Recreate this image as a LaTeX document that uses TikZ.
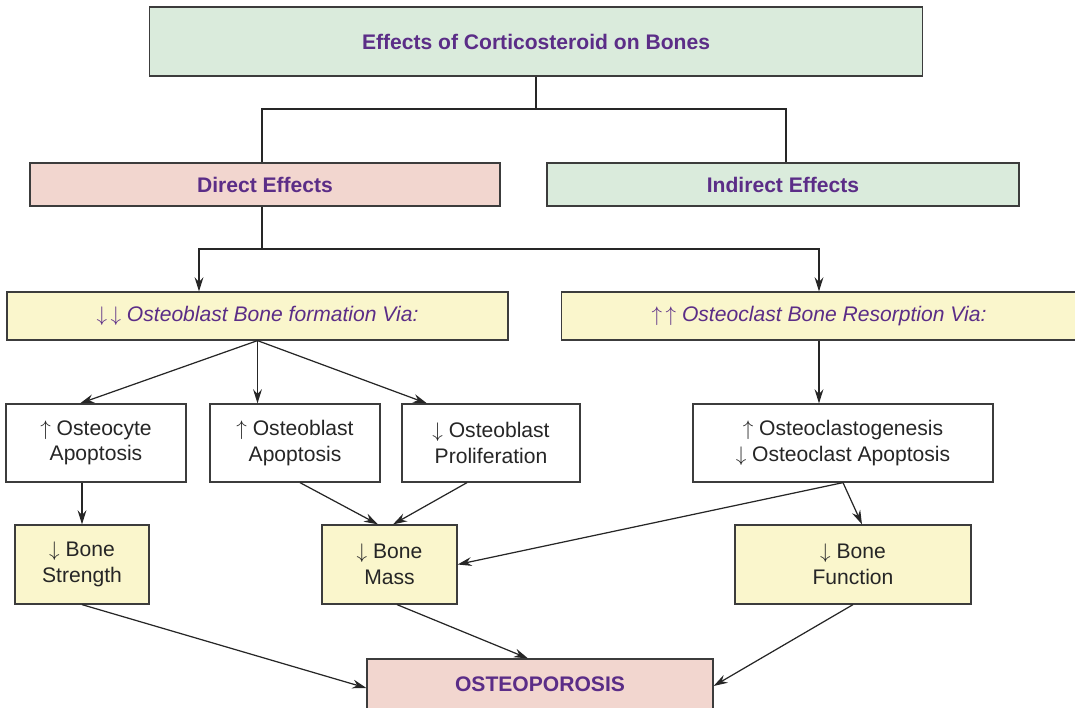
\documentclass[tikz,border=0pt]{standalone}
\usepackage{fontspec}
\setmainfont{Liberation Sans}
\usepackage{xcolor}
\usepackage{tikz}
\usetikzlibrary{arrows.meta, positioning, calc}
\definecolor{boxgreen}{RGB}{218,235,220}
\definecolor{boxpink}{RGB}{242,214,207}
\definecolor{boxyellow}{RGB}{250,246,204}
\definecolor{headpurple}{RGB}{91,45,135}
\definecolor{edgegray}{RGB}{60,60,60}
\newcommand{\upar}{$\uparrow$}
\newcommand{\dnar}{$\downarrow$}
\tikzset{
  box/.style={rectangle, draw=edgegray, line width=0.7pt, fill=white,
              align=center, inner sep=0pt,
              font=\fontsize{12}{14.5}\selectfont, text=black!85},
  boxhead/.style={box, font=\fontsize{12}{14.5}\selectfont\bfseries,
                  text=headpurple},
  boxgreenhead/.style={boxhead, fill=boxgreen},
  boxpinkhead/.style={boxhead, fill=boxpink},
  boxvia/.style={box, fill=boxyellow, text=headpurple,
                 font=\fontsize{12}{14.5}\selectfont\itshape},
  boxresult/.style={box, fill=boxyellow},
  link/.style={line width=0.7pt, draw=black!85},
  arrow/.style={link, -{Stealth[length=8pt, width=5pt]}},
}

\begin{document}
\begin{tikzpicture}
  \useasboundingbox (0,0) rectangle (21.5,-14.14);

  % heading and the two branches
  \node[boxgreenhead, minimum width=15.46cm, minimum height=1.38cm]
    (title) at (10.72,-0.83) {Effects of Corticosteroid on Bones};
  \node[boxpinkhead, minimum width=9.4cm, minimum height=0.86cm]
    (direct) at (5.30,-3.69) {Direct Effects};
  \node[boxgreenhead, minimum width=9.44cm, minimum height=0.86cm]
    (indirect) at (15.66,-3.69) {Indirect Effects};

  % formation / resorption
  \node[boxvia, minimum width=10.02cm, minimum height=0.96cm]
    (formation) at (5.15,-6.32)
    {$\downarrow\,\downarrow$ Osteoblast Bone formation Via:};
  \node[boxvia, minimum width=10.3cm, minimum height=0.96cm]
    (resorption) at (16.38,-6.32)
    {$\uparrow\,\uparrow$ Osteoclast Bone Resorption Via:};

  % cellular effects
  \node[box, minimum width=3.6cm, minimum height=1.56cm]
    (osteocyte) at (1.92,-8.86) {\upar{} Osteocyte\\Apoptosis};
  \node[box, minimum width=3.4cm, minimum height=1.56cm]
    (obapop) at (5.90,-8.86) {\upar{} Osteoblast\\Apoptosis};
  \node[box, minimum width=3.56cm, minimum height=1.56cm]
    (prolif) at (9.82,-8.86) {\dnar{} Osteoblast\\Proliferation};
  \node[box, minimum width=6.0cm, minimum height=1.56cm]
    (ocgen) at (16.86,-8.86)
    {\upar{} Osteoclastogenesis\\\dnar{} Osteoclast Apoptosis};

  % results
  \node[boxresult, minimum width=2.68cm, minimum height=1.58cm]
    (strength) at (1.64,-11.29) {\dnar{} Bone\\Strength};
  \node[boxresult, minimum width=2.7cm, minimum height=1.58cm]
    (mass) at (7.79,-11.29) {\dnar{} Bone\\Mass};
  \node[boxresult, minimum width=4.72cm, minimum height=1.58cm]
    (function) at (17.06,-11.29) {\dnar{} Bone\\Function};
  \node[boxpinkhead, minimum width=6.92cm, minimum height=1.0cm]
    (osteo) at (10.80,-13.68) {OSTEOPOROSIS};

  % tree lines
  \coordinate (split) at (10.72,-2.18);
  \coordinate (fork) at (5.24,-4.98);
  \draw[link] (title.south) -- (split);
  \draw[link] ([xshift=-0.06cm]direct.north) |- (split) -| ([xshift=0.06cm]indirect.north);
  \draw[link] (fork |- direct.south) -- (fork);
  \draw[arrow] (fork) -| ([xshift=-1.17cm]formation.north);
  \draw[arrow] (fork) -| (resorption.north);

  \draw[arrow] (formation.south) -- ([xshift=-0.32cm]osteocyte.north);
  \draw[arrow] (formation.south) -- (formation.south |- obapop.north);
  \draw[arrow] (formation.south) -- ([xshift=-1.28cm]prolif.north);
  \draw[arrow] (resorption.south) -- (resorption.south |- ocgen.north);

  \draw[arrow] (strength.north |- osteocyte.south) -- (strength.north);
  \draw[arrow] ([xshift=0.1cm]obapop.south) -- ([xshift=-0.23cm]mass.north);
  \draw[arrow] ([xshift=-0.48cm]prolif.south) -- ([xshift=0.07cm]mass.north);
  \draw[arrow] (ocgen.south) -- (mass.east);
  \draw[arrow] (ocgen.south) -- ([xshift=0.18cm]function.north);

  \draw[arrow] (strength.south) -- ([yshift=-0.08cm]osteo.west);
  \draw[arrow] ([xshift=0.15cm]mass.south) -- ([xshift=-0.24cm]osteo.north);
  \draw[arrow] (function.south) -- ([yshift=-0.04cm]osteo.east);
\end{tikzpicture}
\end{document}
